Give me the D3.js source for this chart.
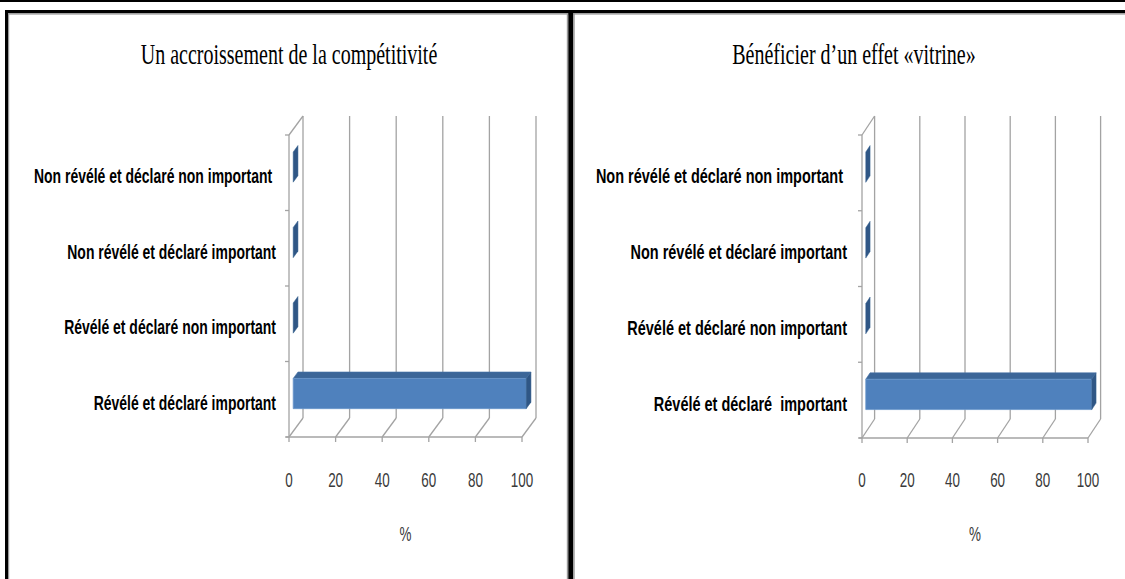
<!DOCTYPE html>
<html>
<head>
<meta charset="utf-8">
<script src="https://cdn.jsdelivr.net/npm/d3@7"></script>
<style>
  html, body { margin: 0; padding: 0; background: #fff; }
  svg { display: block; }
  text { white-space: pre; }
</style>
</head>
<body>
<svg id="chart" width="1125" height="579"></svg>
<script>
// ---- data ----
const titleLeft = "Un accroissement de la compétitivité";
const titleRight = "Bénéficier d’un effet «vitrine»";
const categoriesLeft = [
  "Non révélé et déclaré non important ",
  "Non révélé et déclaré important",
  "Révélé et déclaré non important",
  "Révélé et déclaré important"
];
const categoriesRight = [
  "Non révélé et déclaré non important ",
  "Non révélé et déclaré important",
  "Révélé et déclaré non important",
  "Révélé et déclaré  important"
];
const valuesLeft = [0, 0, 0, 100];
const valuesRight = [0, 0, 0, 100];
const tickValues = [0, 20, 40, 60, 80, 100];
const axisTitle = "%";

// ---- layout ----
const SX = 0.69; // horizontal compression of the original picture
const panels = [
  { title: titleLeft, cats: categoriesLeft, vals: valuesLeft,
    x0: 289, x1: 522, top: 135, bottom: 437, dx: 14, dy: -19,
    labelX: 276, titleX: 289, labelSX: 0.665 },
  { title: titleRight, cats: categoriesRight, vals: valuesRight,
    x0: 862, x1: 1088, top: 135, bottom: 438, dx: 12.6, dy: -19,
    labelX: 847, titleX: 854, labelSX: 0.69 }
];

const svg = d3.select("#chart");

// frame lines
const frame = svg.append("g");
frame.append("rect").attr("x", 0).attr("y", 0).attr("width", 1125).attr("height", 2).attr("fill", "#000");
frame.append("rect").attr("x", 5).attr("y", 10).attr("width", 1120).attr("height", 3.3).attr("fill", "#000");
frame.append("rect").attr("x", 8).attr("y", 13.3).attr("width", 1117).attr("height", 1.3).attr("fill", "#9a9a9a");
frame.append("rect").attr("x", 5).attr("y", 10).attr("width", 3).attr("height", 569).attr("fill", "#000");
frame.append("rect").attr("x", 8).attr("y", 13).attr("width", 1.2).attr("height", 566).attr("fill", "#9a9a9a");
frame.append("rect").attr("x", 566.8).attr("y", 13).attr("width", 1.4).attr("height", 566).attr("fill", "#9a9a9a");
frame.append("rect").attr("x", 568.3).attr("y", 10).attr("width", 5).attr("height", 569).attr("fill", "#000");
frame.append("rect").attr("x", 573.3).attr("y", 13).attr("width", 1.4).attr("height", 566).attr("fill", "#9a9a9a");

function ctext(g, x, y, str, opts) {
  const sx = opts.sx || SX;
  return g.append("text")
    .attr("transform", `translate(${x},${y}) scale(${sx},1)`)
    .attr("text-anchor", opts.anchor || "middle")
    .attr("font-family", opts.family)
    .attr("font-size", opts.size)
    .attr("font-weight", opts.weight || "normal")
    .attr("fill", opts.fill || "#000")
    .text(str);
}

const gridColor = "#a3a3a3";

panels.forEach(p => {
  const g = svg.append("g");
  const x = d3.scaleLinear().domain([0, 100]).range([p.x0, p.x1]);
  const y = d3.scaleBand().domain(p.cats).range([p.top, p.bottom]);
  const dx = p.dx, dy = p.dy;

  // title
  ctext(g, p.titleX, 64, p.title, { family: "'Liberation Serif','Times New Roman',serif", size: 29 });

  // back wall gridlines
  g.selectAll(".grid").data(tickValues).enter().append("line")
    .attr("x1", d => x(d) + dx).attr("x2", d => x(d) + dx)
    .attr("y1", p.top + dy).attr("y2", p.bottom + dy)
    .attr("stroke", gridColor).attr("stroke-width", 1.3);

  // floor diagonals
  g.selectAll(".floor").data(tickValues).enter().append("line")
    .attr("x1", d => x(d)).attr("x2", d => x(d) + dx)
    .attr("y1", p.bottom).attr("y2", p.bottom + dy)
    .attr("stroke", gridColor).attr("stroke-width", 1.3);

  // left wall edges
  g.append("line").attr("x1", p.x0).attr("x2", p.x0).attr("y1", p.top).attr("y2", p.bottom)
    .attr("stroke", gridColor).attr("stroke-width", 1.3);
  g.append("line").attr("x1", p.x0).attr("x2", p.x0 + dx).attr("y1", p.top).attr("y2", p.top + dy)
    .attr("stroke", gridColor).attr("stroke-width", 1.3);

  // floor front edge (value axis)
  g.append("line").attr("x1", p.x0 - 3).attr("x2", p.x1).attr("y1", p.bottom).attr("y2", p.bottom)
    .attr("stroke", gridColor).attr("stroke-width", 1.5);
  g.selectAll(".xtick").data(tickValues).enter().append("line")
    .attr("x1", d => x(d)).attr("x2", d => x(d))
    .attr("y1", p.bottom).attr("y2", p.bottom + 5)
    .attr("stroke", gridColor).attr("stroke-width", 1.3);

  // category tick marks
  const bounds = p.cats.map(c => y(c)).concat([p.bottom]);
  g.selectAll(".ytick").data(bounds).enter().append("line")
    .attr("x1", p.x0 - 4).attr("x2", p.x0)
    .attr("y1", d => d).attr("y2", d => d)
    .attr("stroke", gridColor).attr("stroke-width", 1.3);

  // bars (3D)
  const f1 = 0.3, f2 = 0.64;
  const bh = y.bandwidth() * 0.4;
  p.cats.forEach((c, i) => {
    const v = p.vals[i];
    const cy = y(c) + y.bandwidth() / 2;
    const xa = x(0), xb = x(v);
    const yt = cy - bh / 2, yb = cy + bh / 2;
    const P = (px, py, f) => [px + f * dx, py + f * dy];
    if (v > 0) {
      // top face
      g.append("polygon")
        .attr("points", [P(xa, yt, f1), P(xb, yt, f1), P(xb, yt, f2), P(xa, yt, f2)].map(q => q.join(",")).join(" "))
        .attr("fill", "#3c6698").attr("stroke", "#4672a8").attr("stroke-width", 0.6);
      // front face
      g.append("polygon")
        .attr("points", [P(xa, yt, f1), P(xb, yt, f1), P(xb, yb, f1), P(xa, yb, f1)].map(q => q.join(",")).join(" "))
        .attr("fill", "#4f81bd").attr("stroke", "#6a97cc").attr("stroke-width", 0.8);
    }
    // side (end) face
    g.append("polygon")
      .attr("points", [P(xb, yt, f1), P(xb, yt, f2), P(xb, yb, f2), P(xb, yb, f1)].map(q => q.join(",")).join(" "))
      .attr("fill", "#2f5685").attr("stroke", "#35608f").attr("stroke-width", 0.5);

    // category label
    ctext(g, p.labelX, cy + 10.5, c, {
      anchor: "end", family: "'Liberation Sans',Arial,sans-serif", size: 21, weight: "bold", fill: "#000", sx: p.labelSX
    });
  });

  // tick labels
  tickValues.forEach(t => {
    ctext(g, x(t), 486.5, String(t), { family: "'Liberation Sans',Arial,sans-serif", size: 21, fill: "#3a3a3a", sx: 0.64 });
  });

  // axis title
  ctext(g, (p.x0 + p.x1) / 2, 541, axisTitle, { family: "'Liberation Sans',Arial,sans-serif", size: 21, fill: "#3a3a3a", sx: 0.64 });
});
</script>
</body>
</html>
